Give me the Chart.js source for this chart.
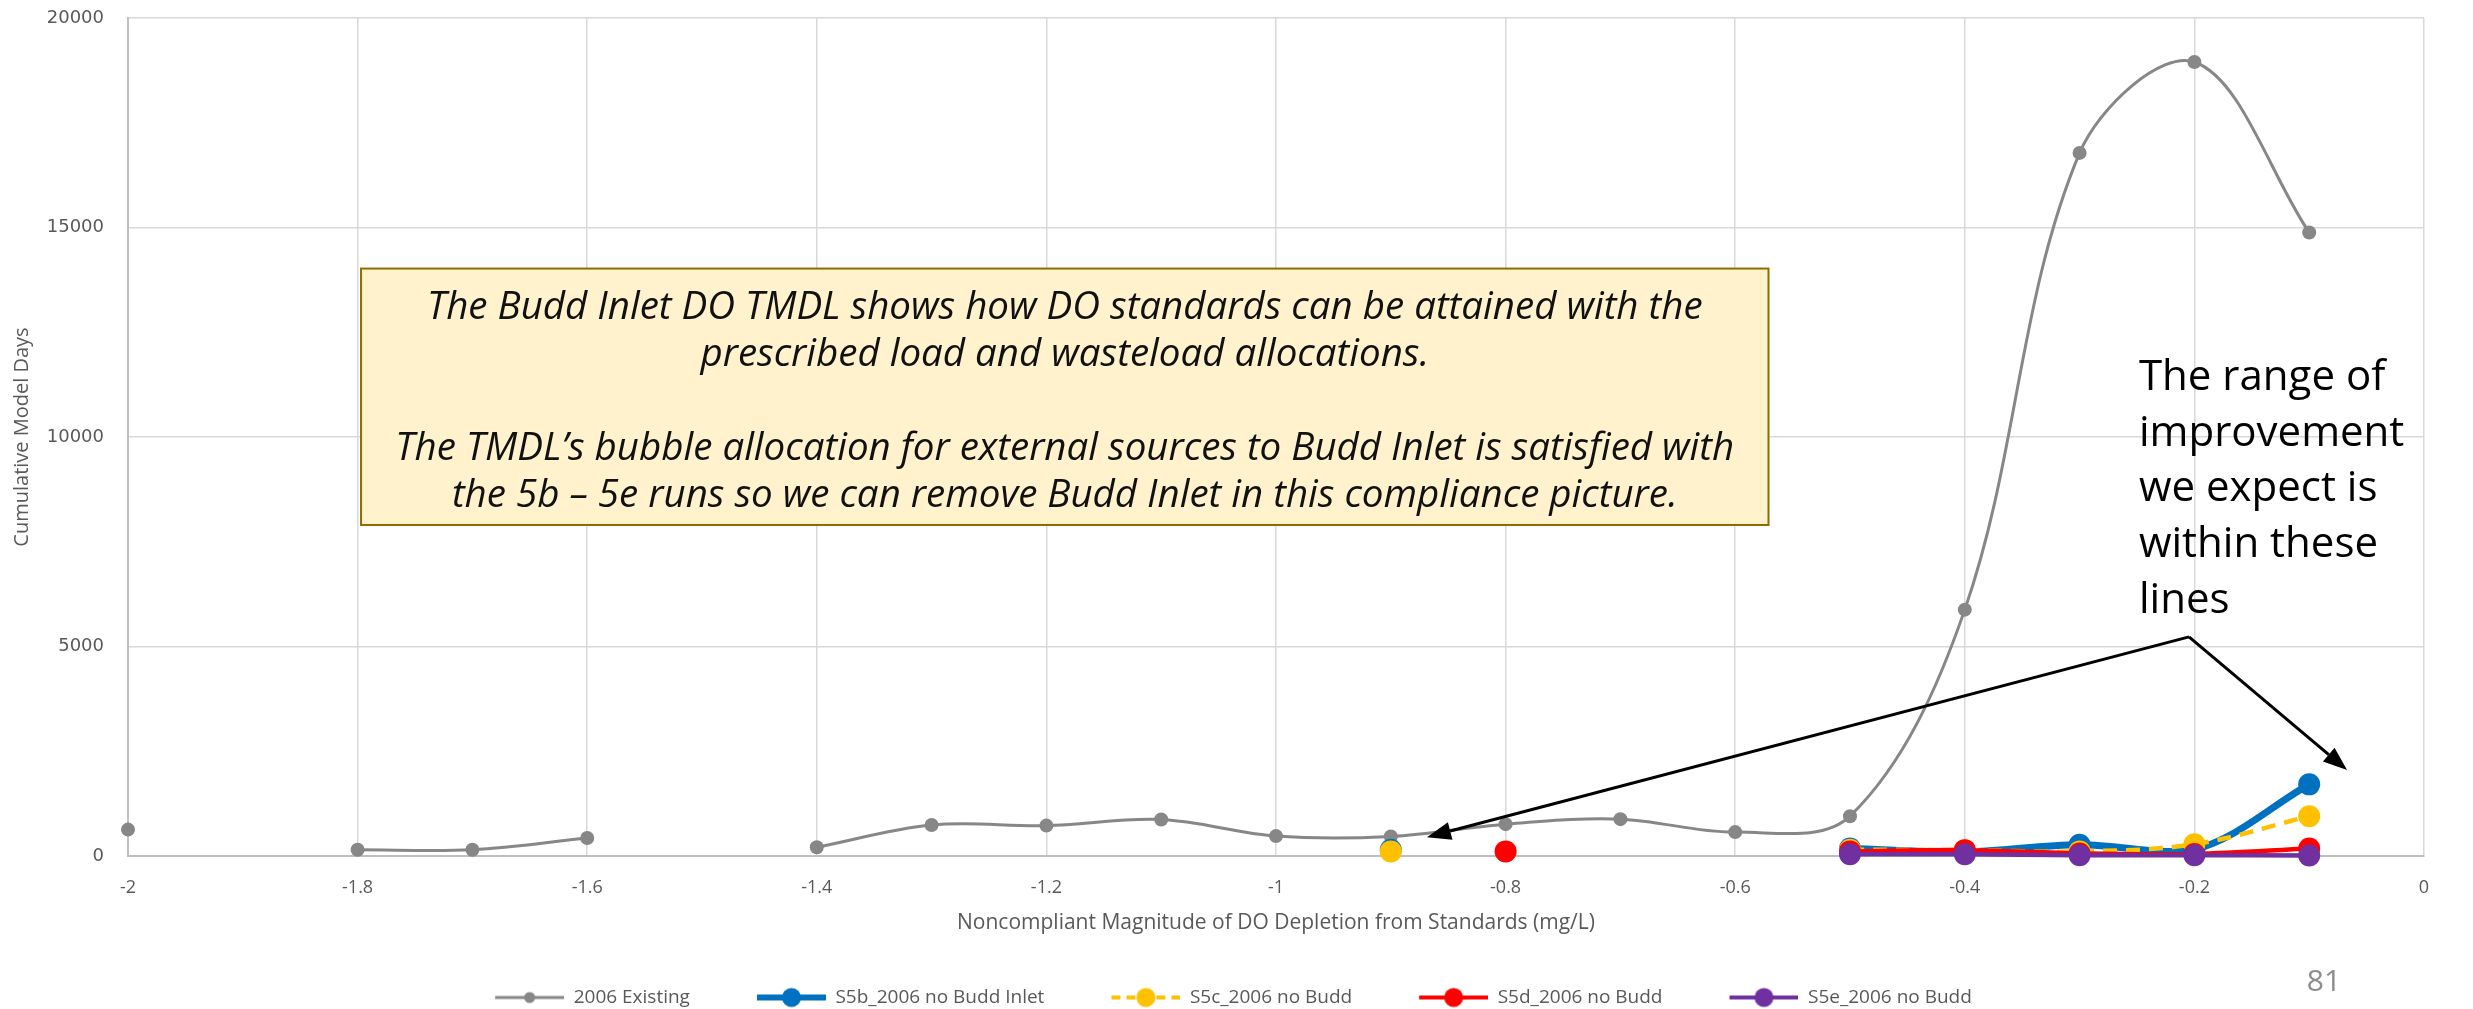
<!DOCTYPE html>
<html>
<head>
<meta charset="utf-8">
<title>Noncompliant DO depletion</title>
<script src="https://cdn.jsdelivr.net/npm/chart.js@4.4.1/dist/chart.umd.min.js"></script>
<style>
  html, body { margin: 0; padding: 0; background: #fff; }
  #wrap { width: 2473px; height: 1009px; }
</style>
</head>
<body>
<div id="wrap"><canvas id="freqChart" width="2473" height="1009"></canvas></div>
<script>
// depletion bins (mg/L) and cumulative model days per run
var depletion = [-2, -1.9, -1.8, -1.7, -1.6, -1.5, -1.4, -1.3, -1.2, -1.1, -1, -0.9, -0.8, -0.7, -0.6, -0.5, -0.4, -0.3, -0.2, -0.1];
var existing2006 = [630, null, 150, 150, 430, null, 210, 740, 725, 870, 475, 465, 760, 880, 570, 950, 5880, 16780, 18950, 14880];
var s5bNoBuddInlet = [null, null, null, null, null, null, null, null, null, null, null, 150, null, null, null, 180, 100, 270, 150, 1710];
var s5cNoBudd = [null, null, null, null, null, null, null, null, null, null, null, 110, null, null, null, 150, 140, 110, 280, 950];
var s5dNoBudd = [null, null, null, null, null, null, null, null, null, null, null, null, 110, null, null, 110, 140, 60, 50, 180];
var s5eNoBudd = [null, null, null, null, null, null, null, null, null, null, null, null, null, null, null, 40, 40, 20, 20, 10];

var seriesNames = ['2006 Existing', 'S5b_2006 no Budd Inlet', 'S5c_2006 no Budd', 'S5d_2006 no Budd', 'S5e_2006 no Budd'];
var xTicks = { min: -2, max: 0, step: 0.2 };
var yTicks = { min: 0, max: 20000, step: 5000 };

var noteLines = [
    'The Budd Inlet DO TMDL shows how DO standards can be attained with the',
    'prescribed load and wasteload allocations.',
    '',
    'The TMDL\u2019s bubble allocation for external sources to Budd Inlet is satisfied with',
    'the 5b \u2013 5e runs so we can remove Budd Inlet in this compliance picture.'
];
var rangeLines = ['The range of', 'improvement', 'we expect is', 'within these', 'lines'];
var slideNumber = '81';

function toPoints(values) {
    return depletion.map(function(x, i) { return { x: x, y: values[i] }; });
}

function legendIcon(color, lineWidth, radius, dash) {
    var c = document.createElement('canvas');
    c.width = 112;
    c.height = 26;
    var g = c.getContext('2d');
    g.strokeStyle = color;
    g.lineWidth = lineWidth;
    if (dash) g.setLineDash(dash);
    g.beginPath();
    g.moveTo(43, 13);
    g.lineTo(112, 13);
    g.stroke();
    g.setLineDash([]);
    g.fillStyle = color;
    g.beginPath();
    g.arc(77.5, 13, radius, 0, Math.PI * 2);
    g.fill();
    return c;
}

var legendIcons = [
    legendIcon('#878787', 3, 5.5),
    legendIcon('#0070C0', 6, 9.5),
    legendIcon('#FFC000', 4, 9.5, [9, 6]),
    legendIcon('#FF0000', 4, 9.5),
    legendIcon('#7030A0', 4, 9.5)
];

function drawArrow(ctx, x0, y0, x1, y1) {
    var ang = Math.atan2(y1 - y0, x1 - x0);
    var len = 24, half = 9;
    var bx = x1 - Math.cos(ang) * len, by = y1 - Math.sin(ang) * len;
    ctx.beginPath();
    ctx.moveTo(x0, y0);
    ctx.lineTo(bx, by);
    ctx.stroke();
    ctx.beginPath();
    ctx.moveTo(x1, y1);
    ctx.lineTo(bx + Math.sin(ang) * half, by - Math.cos(ang) * half);
    ctx.lineTo(bx - Math.sin(ang) * half, by + Math.cos(ang) * half);
    ctx.closePath();
    ctx.fill();
}

// callout box, arrows and side note, placed in data units
var notesPlugin = {
    id: 'notes',
    afterDraw: function(chart) {
        var ctx = chart.ctx;
        var xs = chart.scales.x, ys = chart.scales.y;
        ctx.save();

        var bx0 = xs.getPixelForValue(-1.797), bx1 = xs.getPixelForValue(-0.571);
        var by0 = ys.getPixelForValue(14020), by1 = ys.getPixelForValue(7900);
        ctx.fillStyle = '#FFF2CC';
        ctx.fillRect(bx0, by0, bx1 - bx0, by1 - by0);
        ctx.strokeStyle = '#8F6C00';
        ctx.lineWidth = 2;
        ctx.strokeRect(bx0, by0, bx1 - bx0, by1 - by0);
        ctx.fillStyle = '#111';
        ctx.font = 'italic 38.5px "Open Sans"';
        ctx.textAlign = 'center';
        ctx.textBaseline = 'middle';
        var cx = (bx0 + bx1) / 2;
        noteLines.forEach(function(line, i) {
            if (line) ctx.fillText(line, cx, by0 + 39 + i * 47);
        });

        ctx.textAlign = 'left';
        ctx.fillStyle = '#000';
        ctx.font = '42px "Open Sans"';
        var tx = xs.getPixelForValue(-0.2483), ty = ys.getPixelForValue(11410);
        rangeLines.forEach(function(line, i) {
            ctx.fillText(line, tx, ty + i * 55.7);
        });

        ctx.strokeStyle = '#000';
        ctx.fillStyle = '#000';
        ctx.lineWidth = 3;
        var sx = xs.getPixelForValue(-0.2047), sy = ys.getPixelForValue(5230);
        drawArrow(ctx, sx, sy, xs.getPixelForValue(-0.8685), ys.getPixelForValue(450));
        drawArrow(ctx, sx, sy, xs.getPixelForValue(-0.067), ys.getPixelForValue(2050));

        ctx.fillStyle = '#8C8C8C';
        ctx.font = '30px "Open Sans"';
        ctx.textAlign = 'center';
        ctx.fillText(slideNumber, chart.width - 149, 982);
        ctx.restore();
    }
};

var chart = new Chart(document.getElementById('freqChart'), {
    type: 'line',
    data: {
        datasets: [{
            label: seriesNames[0],
            data: toPoints(existing2006),
            borderColor: '#878787',
            backgroundColor: '#878787',
            borderWidth: 3,
            pointRadius: 7,
            pointBorderWidth: 0,
            tension: 0.35,
            clip: false,
            order: 4
        }, {
            label: seriesNames[1],
            data: toPoints(s5bNoBuddInlet),
            borderColor: '#0070C0',
            backgroundColor: '#0070C0',
            borderWidth: 7,
            pointRadius: 11,
            pointBorderWidth: 0,
            tension: 0.35,
            clip: false,
            order: 3
        }, {
            label: seriesNames[2],
            data: toPoints(s5cNoBudd),
            borderColor: '#FFC000',
            backgroundColor: '#FFC000',
            borderWidth: 4.5,
            borderDash: [14, 9],
            pointRadius: 11,
            pointBorderWidth: 0,
            tension: 0.35,
            clip: false,
            order: 2
        }, {
            label: seriesNames[3],
            data: toPoints(s5dNoBudd),
            borderColor: '#FF0000',
            backgroundColor: '#FF0000',
            borderWidth: 4.5,
            pointRadius: 11,
            pointBorderWidth: 0,
            tension: 0.35,
            clip: false,
            order: 1
        }, {
            label: seriesNames[4],
            data: toPoints(s5eNoBudd),
            borderColor: '#7030A0',
            backgroundColor: '#7030A0',
            borderWidth: 4.5,
            pointRadius: 11,
            pointBorderWidth: 0,
            tension: 0.35,
            clip: false,
            order: 0
        }]
    },
    options: {
        responsive: false,
        animation: false,
        devicePixelRatio: 1,
        layout: { padding: { top: 18, right: 49, bottom: -8, left: 0 } },
        scales: {
            x: {
                type: 'linear',
                min: xTicks.min,
                max: xTicks.max,
                afterFit: function(scale) { scale.height = 108; },
                grid: { color: '#d9d9d9', lineWidth: 1.5, drawTicks: false },
                border: { color: '#bfbfbf', width: 2 },
                ticks: {
                    stepSize: xTicks.step,
                    padding: 21,
                    color: '#595959',
                    font: { family: 'Open Sans', size: 18 },
                    callback: function(v) { return String(Number(v.toFixed(1))); }
                },
                title: {
                    display: true,
                    text: 'Noncompliant Magnitude of DO Depletion from Standards (mg/L)',
                    color: '#595959',
                    font: { family: 'Open Sans', size: 21 },
                    padding: { top: 28, bottom: 28 }
                }
            },
            y: {
                min: yTicks.min,
                max: yTicks.max,
                afterFit: function(scale) { scale.width = 128; },
                // transparent tick marks keep the labels clear of the axis
                grid: { color: '#d9d9d9', lineWidth: 1.5, drawTicks: true, tickLength: 24, tickColor: 'rgba(0,0,0,0)' },
                border: { color: '#bfbfbf', width: 2 },
                ticks: {
                    stepSize: yTicks.step,
                    padding: 0,
                    color: '#595959',
                    font: { family: 'DejaVu Sans', size: 18 },
                    callback: function(v) { return String(v); }
                },
                title: {
                    display: true,
                    text: 'Cumulative Model Days',
                    color: '#595959',
                    font: { family: 'Open Sans', size: 20 },
                    padding: { top: 10, bottom: 10 }
                }
            }
        },
        plugins: {
            tooltip: { enabled: false },
            legend: {
                position: 'bottom',
                labels: {
                    usePointStyle: true,
                    pointStyleWidth: 112,
                    padding: 24,
                    color: '#595959',
                    font: { family: 'Open Sans', size: 19 },
                    sort: function(a, b) { return a.datasetIndex - b.datasetIndex; },
                    generateLabels: function(chart) {
                        var items = Chart.defaults.plugins.legend.labels.generateLabels(chart);
                        items.forEach(function(item) { item.pointStyle = legendIcons[item.datasetIndex]; });
                        return items;
                    }
                }
            }
        }
    },
    plugins: [notesPlugin]
});
</script>
</body>
</html>
